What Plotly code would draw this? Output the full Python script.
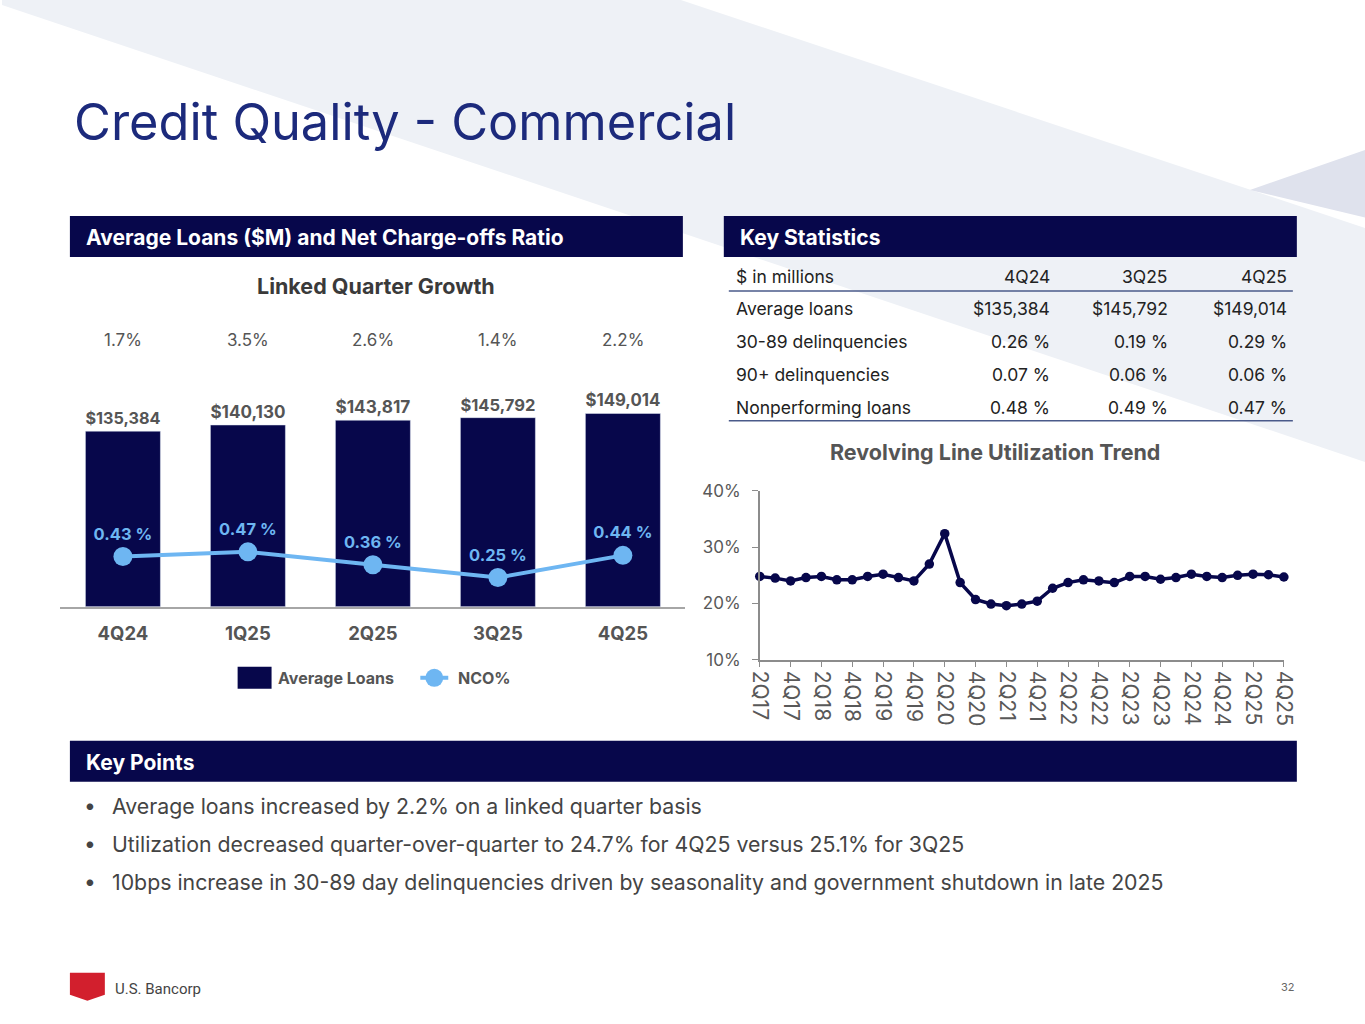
import plotly.graph_objects as go

# ---- data ----
loan_quarters = ['4Q24', '1Q25', '2Q25', '3Q25', '4Q25']
avg_loans = [135384, 140130, 143817, 145792, 149014]
nco_ratio = [0.43, 0.47, 0.36, 0.25, 0.44]
lq_growth = [1.7, 3.5, 2.6, 1.4, 2.2]

util_quarters = ['2Q17', '3Q17', '4Q17',
                 '1Q18', '2Q18', '3Q18', '4Q18',
                 '1Q19', '2Q19', '3Q19', '4Q19',
                 '1Q20', '2Q20', '3Q20', '4Q20',
                 '1Q21', '2Q21', '3Q21', '4Q21',
                 '1Q22', '2Q22', '3Q22', '4Q22',
                 '1Q23', '2Q23', '3Q23', '4Q23',
                 '1Q24', '2Q24', '3Q24', '4Q24',
                 '1Q25', '2Q25', '3Q25', '4Q25']
utilization = [24.8, 24.5, 24.0,
               24.6, 24.8, 24.2, 24.2,
               24.8, 25.2, 24.6, 24.0,
               27.0, 32.4, 23.7, 20.7,
               19.9, 19.6, 19.9, 20.4,
               22.7, 23.7, 24.2, 24.0,
               23.7, 24.8, 24.8, 24.3,
               24.6, 25.2, 24.8, 24.6,
               25.0, 25.2, 25.1, 24.7]
util_ticks = util_quarters[::2]
util_yticks = [10, 20, 30, 40]

stat_cols = ['4Q24', '3Q25', '4Q25']
stat_rows = ['Average loans', '30-89 delinquencies', '90+ delinquencies', 'Nonperforming loans']
stat_avg_loans = ['$135,384', '$145,792', '$149,014']
stat_dq_30_89 = ['0.26 %', '0.19 %', '0.29 %']
stat_dq_90 = ['0.07 %', '0.06 %', '0.06 %']
stat_npl = ['0.48 %', '0.49 %', '0.47 %']

key_points = [
    'Average loans increased by 2.2% on a linked quarter basis',
    'Utilization decreased quarter-over-quarter to 24.7% for 4Q25 versus 25.1% for 3Q25',
    '10bps increase in 30-89 day delinquencies driven by seasonality and government shutdown in late 2025',
]

# the page photo comes out shifted ~10px and shrunk ~1.7%, so the layout is
# placed in slide pixels and mapped back through that
OFF, SX, SY = 10, 0.9835, 0.981
W, H = 1378, 1034
NAVY = '#07074b'
TITLE_BLUE = '#1c2a7c'
LIGHT_BLUE = '#6eb6f2'
GRAY = '#555555'
FONT = 'Inter'


def px(x):
    return (x - OFF) / SX / W


def py(y):
    return 1 - (y - OFF) / SY / H


fig = go.Figure()

# average loans bars
fig.add_trace(go.Bar(
    x=loan_quarters, y=avg_loans, name='Average Loans',
    marker=dict(color=NAVY), width=0.6,
    texttemplate='$%{y:,.0f}', textposition='outside',
    textfont=dict(family=FONT, size=20.5, color=GRAY, weight='bold'),
    cliponaxis=False, showlegend=False, xaxis='x', yaxis='y'))

# NCO line
fig.add_trace(go.Scatter(
    x=loan_quarters, y=nco_ratio, name='NCO%',
    mode='lines+markers+text',
    line=dict(color=LIGHT_BLUE, width=4),
    marker=dict(color=LIGHT_BLUE, size=19),
    texttemplate='%{y:.2f} %', textposition='top center',
    textfont=dict(family=FONT, size=16.5, color=LIGHT_BLUE, weight='bold'),
    cliponaxis=False, showlegend=False, xaxis='x', yaxis='y2'))

# utilization trend
fig.add_trace(go.Scatter(
    x=util_quarters, y=utilization, mode='lines+markers',
    line=dict(color=NAVY, width=3.5), marker=dict(color=NAVY, size=9.5),
    showlegend=False, cliponaxis=False, xaxis='x2', yaxis='y3'))

shapes = []
annotations = []

# background bands
shapes.append(dict(type='path', xref='paper', yref='paper', layer='below', line_width=0,
                   fillcolor='#eef1f6',
                   path=f'M {px(0)} {py(5)} L {px(0)} {py(0)} L {px(680)} {py(0)} '
                        f'L {px(1380)} {py(233)} L {px(1380)} {py(467)} Z'))
shapes.append(dict(type='path', xref='paper', yref='paper', layer='below', line_width=0,
                   fillcolor='#dfe2ed',
                   path=f'M {px(1250)} {py(190)} L {px(1380)} {py(145)} L {px(1380)} {py(221)} Z'))

# title
annotations.append(dict(text='Credit Quality - Commercial', x=px(70), y=py(122),
                        xref='paper', yref='paper', xanchor='left', yanchor='middle',
                        showarrow=False, font=dict(family=FONT, size=50.5, color=TITLE_BLUE)))

# section header bars
for x0, x1, y0, y1, label in [(68, 682, 216, 257, 'Average Loans ($M) and Net Charge-offs Ratio'),
                              (723, 1297, 216, 257, 'Key Statistics'),
                              (68, 1297, 741, 782, 'Key Points')]:
    shapes.append(dict(type='rect', xref='paper', yref='paper', line_width=0, fillcolor=NAVY,
                       x0=px(x0), x1=px(x1), y0=py(y1), y1=py(y0)))
    annotations.append(dict(text=label, x=px(x0 + 14), y=py((y0 + y1) / 2 + 1),
                            xref='paper', yref='paper', xanchor='left', yanchor='middle',
                            showarrow=False,
                            font=dict(family=FONT, size=21, color='white', weight='bold')))

# left chart titles
annotations.append(dict(text='Linked Quarter Growth', x=px(375), y=py(286),
                        xref='paper', yref='paper', xanchor='center', yanchor='middle',
                        showarrow=False, font=dict(family=FONT, size=21.5, color='#3a3a3a', weight='bold')))
for q, g in zip(loan_quarters, lq_growth):
    annotations.append(dict(text=f'{g:.1f}%', x=q, y=py(340), xref='x', yref='paper',
                            xanchor='center', yanchor='middle', showarrow=False,
                            font=dict(family=FONT, size=17, color=GRAY)))

# legend (drawn by hand to get the wide swatch)
shapes.append(dict(type='rect', xref='paper', yref='paper', line_width=0, fillcolor=NAVY,
                   x0=px(236), x1=px(270), y0=py(689), y1=py(667)))
annotations.append(dict(text='Average Loans', x=px(274), y=py(678), xref='paper', yref='paper',
                        xanchor='left', yanchor='middle', showarrow=False,
                        font=dict(family=FONT, size=16, color=GRAY, weight='bold')))
shapes.append(dict(type='line', xref='paper', yref='paper', x0=px(419), x1=px(447),
                   y0=py(678), y1=py(678), line=dict(color=LIGHT_BLUE, width=4)))
shapes.append(dict(type='circle', xref='paper', yref='paper', line_width=0, fillcolor=LIGHT_BLUE,
                   x0=px(424), x1=px(442), y0=py(687), y1=py(669)))
annotations.append(dict(text='NCO%', x=px(455), y=py(678), xref='paper', yref='paper',
                        xanchor='left', yanchor='middle', showarrow=False,
                        font=dict(family=FONT, size=16, color=GRAY, weight='bold')))

# key statistics table
col_right = [1052, 1170, 1289]
tfont = dict(family=FONT, size=17.5, color='#222222')
annotations.append(dict(text='$ in millions', x=px(733), y=py(277), xref='paper', yref='paper',
                        xanchor='left', yanchor='middle', showarrow=False, font=tfont))
for cx, c in zip(col_right, stat_cols):
    annotations.append(dict(text=c, x=px(cx), y=py(277), xref='paper', yref='paper',
                            xanchor='right', yanchor='middle', showarrow=False, font=tfont))
row_vals = [stat_avg_loans, stat_dq_30_89, stat_dq_90, stat_npl]
for i, (r, vals) in enumerate(zip(stat_rows, row_vals)):
    ry = 309 + i * 33
    annotations.append(dict(text=r, x=px(733), y=py(ry), xref='paper', yref='paper',
                            xanchor='left', yanchor='middle', showarrow=False, font=tfont))
    for cx, v in zip(col_right, vals):
        annotations.append(dict(text=v, x=px(cx), y=py(ry), xref='paper', yref='paper',
                                xanchor='right', yanchor='middle', showarrow=False, font=tfont))
for ly in [291, 421]:
    shapes.append(dict(type='line', xref='paper', yref='paper', x0=px(728), x1=px(1293),
                       y0=py(ly), y1=py(ly), line=dict(color='#4a5a8a', width=1.5)))

annotations.append(dict(text='Revolving Line Utilization Trend', x=px(995), y=py(452),
                        xref='paper', yref='paper', xanchor='center', yanchor='middle',
                        showarrow=False, font=dict(family=FONT, size=21.5, color='#555555', weight='bold')))

# key points
for i, kp in enumerate(key_points):
    annotations.append(dict(text='•', x=px(88), y=py(806 + i * 38), xref='paper', yref='paper',
                            xanchor='center', yanchor='middle', showarrow=False,
                            font=dict(family=FONT, size=21, color='#444444')))
    annotations.append(dict(text=kp, x=px(108), y=py(806 + i * 38), xref='paper', yref='paper',
                            xanchor='left', yanchor='middle', showarrow=False,
                            font=dict(family=FONT, size=21.3, color='#444444')))

# footer
shapes.append(dict(type='path', xref='paper', yref='paper', line_width=0, fillcolor='#d21f2d',
                   path=f'M {px(68)} {py(973)} L {px(103)} {py(973)} L {px(103)} {py(995)} '
                        f'L {px(85.5)} {py(1001)} L {px(68)} {py(995)} Z'))
annotations.append(dict(text='U.S. Bancorp', x=px(111), y=py(989), xref='paper', yref='paper',
                        xanchor='left', yanchor='middle', showarrow=False,
                        font=dict(family='Roboto', size=15, color='#444444')))
annotations.append(dict(text='32', x=px(1297), y=py(987), xref='paper', yref='paper',
                        xanchor='right', yanchor='middle', showarrow=False,
                        font=dict(family=FONT, size=11, color='#666666')))

fig.update_layout(
    width=W, height=H,
    margin=dict(l=0, r=0, t=0, b=0),
    paper_bgcolor='white', plot_bgcolor='rgba(0,0,0,0)',
    font=dict(family=FONT, color=GRAY),
    shapes=shapes, annotations=annotations,
    showlegend=False,
    xaxis=dict(domain=[px(58.5), px(684.5)], type='category', range=[-0.5, 4.5],
               showline=True, linecolor='#a6a6a6', linewidth=2, ticks='', showgrid=False,
               ticklabelstandoff=9,
               tickfont=dict(family=FONT, size=18.5, color=GRAY, weight='bold'), anchor='y'),
    yaxis=dict(domain=[py(607), py(400)], range=[0, 159500], visible=False, anchor='x'),
    yaxis2=dict(range=[0, 1.77], overlaying='y', visible=False, anchor='x'),
    xaxis2=dict(domain=[px(759), px(1284)], type='category', range=[0, len(util_quarters) - 1],
                tickvals=util_ticks, ticktext=util_ticks, tickangle=90,
                showline=True, linecolor='#8c8c8c', linewidth=1.5,
                ticks='outside', ticklen=5, tickcolor='#8c8c8c', showgrid=False,
                tickfont=dict(family=FONT, size=21, color='#595959'), anchor='y3'),
    yaxis3=dict(domain=[py(660), py(491)], range=[10, 40], tickvals=util_yticks,
                ticktext=[f'{v}%' for v in util_yticks], showline=True, linecolor='#8c8c8c',
                linewidth=1.5, ticks='outside', ticklen=6, tickcolor='#8c8c8c', showgrid=False,
                ticklabelstandoff=8,
                zeroline=False, tickfont=dict(family=FONT, size=17, color='#595959'), anchor='x2'),
)

fig.write_html('out.html', config={'displayModeBar': False},
               post_script="document.body.style.margin='0';document.body.style.overflow='hidden';")
